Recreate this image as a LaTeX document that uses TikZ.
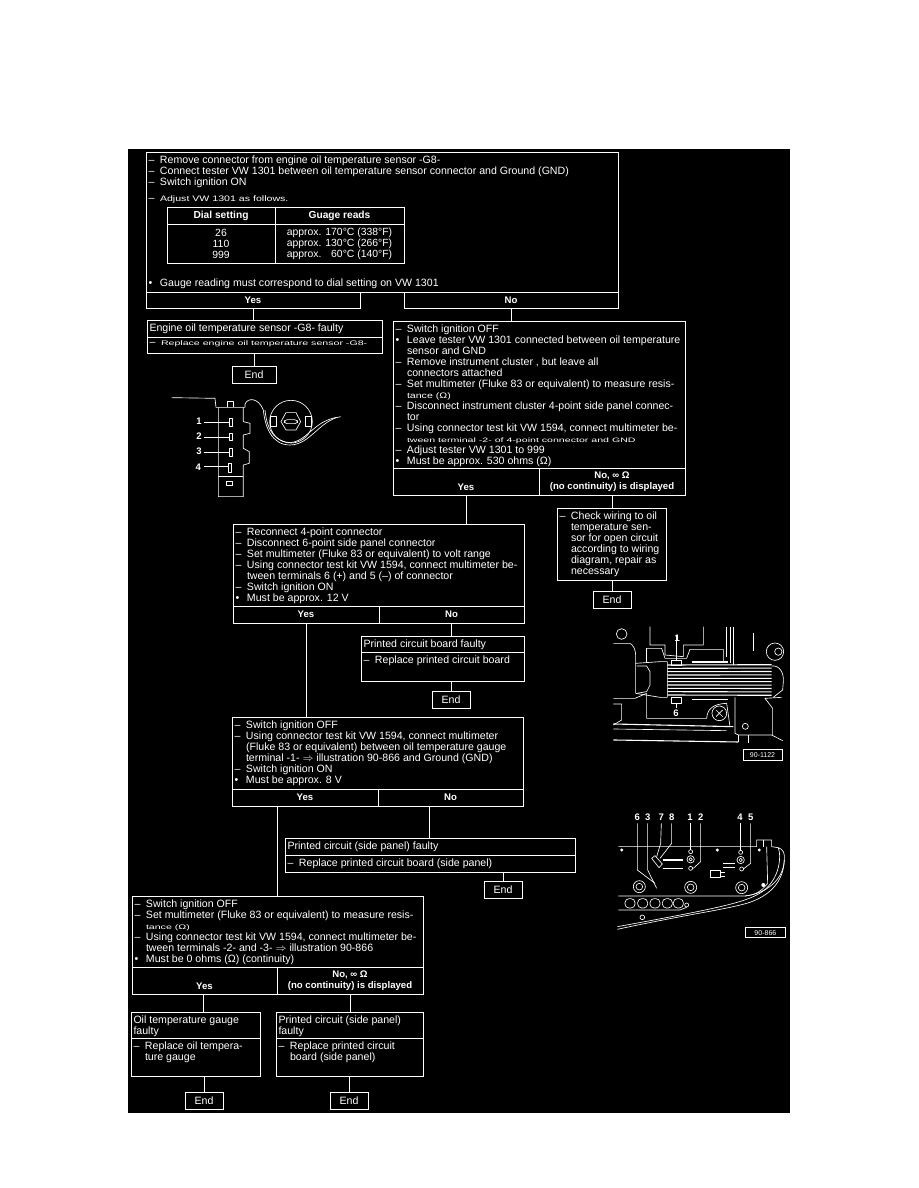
\documentclass[tikz,border=0pt]{standalone}
\usepackage{fontspec}
\setmainfont{Liberation Sans}
\usetikzlibrary{calc}
\newcommand\dl[1]{\makebox[11.5pt][l]{–}#1}
\newcommand\bl[1]{\makebox[11.5pt][l]{\textbullet}#1}
\newcommand\cl[1]{\makebox[11.5pt][l]{}#1}
\newcommand\sq[2][.62]{\scalebox{1}[#1]{#2}}
\newcommand\bt[3]{\parbox[c][#2pt][t]{#1pt}{\vspace*{3.8pt}\raggedright\leftskip=2.5pt\fontsize{10.6}{11}\selectfont #3}}
\tikzset{
 every node/.style={text=white},
 cell/.style={draw=white,line width=.8pt,inner sep=0pt,anchor=north west,outer sep=0pt},
 choice/.style={cell,align=center,font=\fontsize{9.6}{11}\selectfont\bfseries},
 endbox/.style={cell,align=center,font=\fontsize{10.6}{11}\selectfont,minimum width=38pt,minimum height=17pt},
 conn/.style={draw=white,line width=.8pt},
 art/.style={draw=white,line width=.65pt,line join=round},
 thick art/.style={draw=white,line width=1.1pt},
 lab/.style={inner sep=0pt,font=\fontsize{9.5}{10}\selectfont\bfseries},
 tag/.style={draw=white,line width=.8pt,inner sep=0pt,font=\fontsize{7}{8}\selectfont},
}
\begin{document}
\begin{tikzpicture}[x=1pt,y=-1pt]
\useasboundingbox (0,0) rectangle (918,1188);
\fill[black] (128,149) rectangle (790,1113);
% box 1
\node[cell] (b1) at (146,152) {\bt{472}{140}{%
\dl{Remove connector from engine oil temperature sensor -G8-}\\
\dl{Connect tester VW 1301 between oil temperature sensor connector and Ground (GND)}\\
\dl{Switch ignition ON}\\[5pt]
\dl{\sq[.75]{Adjust VW 1301 as follows.}}\\[74pt]
\bl{Gauge reading must correspond to dial setting on VW 1301}}};
\node[choice,minimum width=214pt,minimum height=16pt] (b1y) at (146,292) {Yes};
\node[choice,minimum width=214pt,minimum height=16pt] (b1n) at (404,292) {No};
\node[choice,font=\fontsize{10.2}{11}\selectfont\bfseries,minimum width=108pt,minimum height=17pt] (th1) at (167,207) {Dial setting};
\node[choice,font=\fontsize{10.2}{11}\selectfont\bfseries,minimum width=129pt,minimum height=17pt] (th2) at (275,207) {Guage reads};
\node[cell,align=center,font=\fontsize{10.4}{11}\selectfont,minimum width=108pt,minimum height=39pt] (td1) at (167,224) {26\\110\\999};
\node[cell,align=center,font=\fontsize{10.4}{11}\selectfont,minimum width=129pt,minimum height=39pt] (td2) at (275,224) {approx. 170°C (338°F)\\approx. 130°C (266°F)\\approx. \ \ 60°C (140°F)};
% box 2
\node[cell] (b2) at (147,320) {\bt{235}{17}{Engine oil temperature sensor -G8- faulty}};
\node[cell] (b2b) at (147,337) {\bt{235}{16}{\dl{\sq{Replace engine oil temperature sensor -G8-}}}};
\node[endbox,minimum width=44pt] (e2) at (232,366) {End};
% box 3
\node[cell] (b3) at (393,321) {\bt{292}{147}{%
\dl{Switch ignition OFF}\\
\bl{Leave tester VW 1301 connected between oil temperature}\\
\cl{sensor and GND}\\
\dl{Remove instrument cluster , but leave all}\\
\cl{connectors attached}\\
\dl{Set multimeter (Fluke 83 or equivalent) to measure resis-}\\
\cl{\sq[.75]{tance (Ω)}}\\
\dl{Disconnect instrument cluster 4-point side panel connec-}\\
\cl{tor}\\
\dl{Using connector test kit VW 1594, connect multimeter be-}\\
\cl{\sq[.6]{tween terminal -2- of 4-point connector and GND}}\\
\dl{Adjust tester VW 1301 to 999}\\
\bl{Must be approx. 530 ohms (Ω)}}};
\node[choice,minimum width=146pt,minimum height=27pt] (b3y) at (393,468) {\strut\\Yes};
\node[choice,minimum width=146pt,minimum height=27pt] (b3n) at (539,468) {No, ∞ Ω\\(no continuity) is displayed};
% box 5
\node[cell] (b5) at (557,508) {\bt{109}{72}{%
\dl{Check wiring to oil}\\ \cl{temperature sen-}\\ \cl{sor for open circuit}\\ \cl{according to wiring}\\ \cl{diagram, repair as}\\ \cl{necessary}}};
\node[endbox] (e5) at (593,591) {End};
% box 4
\node[cell] (b4) at (233,524) {\bt{291}{82}{%
\dl{Reconnect 4-point connector}\\
\dl{Disconnect 6-point side panel connector}\\
\dl{Set multimeter (Fluke 83 or equivalent) to volt range}\\
\dl{Using connector test kit VW 1594, connect multimeter be-}\\
\cl{tween terminals 6 (+) and 5 (–) of connector}\\
\dl{Switch ignition ON}\\
\bl{Must be approx. 12 V}}};
\node[choice,minimum width=146pt,minimum height=17pt] (b4y) at (233,606) {Yes};
\node[choice,minimum width=145pt,minimum height=17pt] (b4n) at (379,606) {No};
% box 6
\node[cell] (b6) at (361,636) {\bt{163}{16}{Printed circuit board faulty}};
\node[cell] (b6b) at (361,652) {\bt{163}{29}{\dl{Replace printed circuit board}}};
\node[endbox] (e6) at (432,691) {End};
% box 7
\node[cell] (b7) at (232,717) {\bt{291}{72}{%
\dl{Switch ignition OFF}\\
\dl{Using connector test kit VW 1594, connect multimeter}\\
\cl{(Fluke 83 or equivalent) between oil temperature gauge}\\
\cl{terminal -1- $\Rightarrow$ illustration 90-866 and Ground (GND)}\\
\dl{Switch ignition ON}\\
\bl{Must be approx. 8 V}}};
\node[choice,minimum width=146pt,minimum height=17pt] (b7y) at (232,789) {Yes};
\node[choice,minimum width=145pt,minimum height=17pt] (b7n) at (378,789) {No};
% box 8
\node[cell] (b8) at (285,838) {\bt{290}{17}{Printed circuit (side panel) faulty}};
\node[cell] (b8b) at (285,855) {\bt{290}{17}{\dl{Replace printed circuit board (side panel)}}};
\node[endbox] (e8) at (484,881) {End};
% box 9
\node[cell] (b9) at (132,896) {\bt{291}{71}{%
\dl{Switch ignition OFF}\\
\dl{Set multimeter (Fluke 83 or equivalent) to measure resis-}\\
\cl{\sq{tance (Ω)}}\\
\dl{Using connector test kit VW 1594, connect multimeter be-}\\
\cl{tween terminals -2- and -3- $\Rightarrow$ illustration 90-866}\\
\bl{Must be 0 ohms (Ω) (continuity)}}};
\node[choice,minimum width=145pt,minimum height=27pt] (b9y) at (132,967) {\strut\\Yes};
\node[choice,minimum width=146pt,minimum height=27pt] (b9n) at (277,967) {No, ∞ Ω\\(no continuity) is displayed};
% box 10
\node[cell] (b10) at (131,1012) {\bt{129}{26}{Oil temperature gauge\\faulty}};
\node[cell] (b10b) at (131,1038) {\bt{129}{38}{\dl{Replace oil tempera-}\\ \cl{ture gauge}}};
\node[endbox] (e10) at (185,1092) {End};
% box 11
\node[cell] (b11) at (276,1012) {\bt{147}{26}{Printed circuit (side panel)\\faulty}};
\node[cell] (b11b) at (276,1038) {\bt{147}{38}{\dl{Replace printed circuit}\\ \cl{board (side panel)}}};
\node[endbox] (e11) at (330,1092) {End};
% connectors
\coordinate (j7y) at (277,806);
\coordinate (j7n) at (429,806);
\coordinate (j9y) at (203,994);
\draw[conn] (b1y.south) -- (b1y.south |- b2.north);
\draw[conn] (b1n.south) -- (b1n.south |- b3.north);
\draw[conn] (b2b.south -| e2.north) -- (e2.north);
\draw[conn] (b3y.south) -- (b3y.south |- b4.north);
\draw[conn] (b3n.south) -- (b3n.south |- b5.north);
\draw[conn] (b5.south -| e5.north) -- (e5.north);
\draw[conn] (b4y.south) -- (b4y.south |- b7.north);
\draw[conn] (b4n.south) -- (b4n.south |- b6.north);
\draw[conn] (b6b.south -| e6.north) -- (e6.north);
\draw[conn] (j7y) -- (j7y |- b9.north);
\draw[conn] (j7n) -- (j7n |- b8.north);
\draw[conn] (b8b.south -| e8.north) -- (e8.north);
\draw[conn] (j9y) -- (j9y |- b10.north);
\draw[conn] (b9n.south) -- (b9n.south |- b11.north);
\draw[conn] (b10b.south -| e10.north) -- (e10.north);
\draw[conn] (b11b.south -| e11.north) -- (e11.north);
% illustration: sensor connector
\begin{scope}[shift={(130,310)},x=.3333pt,y=-.3333pt]
\draw[art] (125,263) -- (255,265) -- (258,292) -- (345,292) -- (345,283) .. controls (352,262) and (385,262) .. (400,300) .. controls (405,350) and (425,405) .. (480,405) .. controls (540,405) and (570,330) .. (632,320);
\draw[art] (405,300) .. controls (412,370) and (440,395) .. (480,398) .. controls (530,395) and (550,335) .. (620,322);
\draw[art] (265,292) -- (265,560) -- (340,560) -- (340,465) -- (358,460) -- (358,425) -- (340,415) -- (340,375) -- (360,370) -- (360,340) -- (340,335) -- (340,292);
\draw[art] (292,290) -- (292,275) -- (310,275) -- (310,290);
\draw[art] (265,500) -- (340,500);
\draw[art] (290,513) rectangle (307,525);
\draw[art] (298,325) rectangle (307,350);
\draw[art] (298,370) rectangle (307,392);
\draw[art] (298,415) rectangle (307,440);
\draw[art] (295,460) rectangle (305,487);
\draw[art] (222,337) -- (298,337);
\draw[art] (222,381) -- (298,381);
\draw[art] (222,426) -- (298,426);
\draw[art] (222,470) -- (295,470);
\draw[art] (483,335) circle (64);
\draw[art] (512,335) -- (498,360) -- (468,360) -- (453,335) -- (468,308) -- (498,308) -- cycle;
\draw[art,rounded corners=3pt] (463,329) rectangle (503,341);
\draw[art] (420,320) rectangle (440,350);
\draw[art] (525,320) rectangle (545,350);
\node[lab] (s1) at (207,335) {1};
\node[lab] (s2) at (207,380) {2};
\node[lab] (s3) at (207,425) {3};
\node[lab] (s4) at (205,472) {4};
\end{scope}
% illustration 90-1122
\begin{scope}[shift={(590,610)},x=.3333pt,y=-.3333pt]
\draw[art] (95,72) circle (16);
\draw[art] (70,100) -- (120,100) .. controls (130,105) and (137,120) .. (137,135) -- (137,250);
\draw[art] (180,50) -- (180,105) -- (225,105) -- (225,135) -- (280,140) -- (280,105) -- (340,105) -- (340,50);
\draw[art] (170,115) -- (215,115) -- (225,145) -- (290,145) -- (300,118) -- (400,118) -- (400,155);
\draw[art] (170,115) -- (170,158);
\draw[art] (137,160) -- (210,155) -- (232,155) -- (232,262) -- (210,262) -- (137,250);
\draw[art] (140,168) -- (170,168) -- (180,185) -- (180,225) -- (170,245) -- (140,250);
\draw[art] (170,250) -- (170,325) -- (350,325) .. controls (352,300) and (365,282) .. (410,280) -- (420,350);
\foreach \yy in {165,175,185,195,205,215,225,235,245,255}{\draw[thick art] (232,\yy) -- (545,{\yy+(\yy-210)*.02});}
\draw[art] (545,168) .. controls (570,165) and (582,190) .. (580,215) -- (578,240) -- (550,262);
\draw[art] (410,50) -- (410,140);
\draw[art] (420,50) -- (420,160);
\draw[art] (430,50) -- (430,165);
\draw[thick art] (490,70) -- (490,122);
\draw[art] (245,150) rectangle (275,165);
\draw[art] (260,75) -- (260,150);
\draw[art] (245,262) rectangle (275,280);
\draw[art] (260,280) -- (260,295);
\draw[thick art] (305,156) -- (415,156);
\draw[thick art] (305,268) -- (415,268);
\draw[art] (70,265) -- (135,265) -- (170,250);
\draw[art] (70,282) -- (95,282) -- (95,330) -- (70,345);
\draw[thick art] (70,342) -- (430,350);
\draw[art] (70,357) -- (410,362);
\draw[thick art] (70,390) -- (445,396);
\draw[art] (435,262) -- (435,370) -- (445,375) -- (545,375) -- (578,392);
\draw[art] (548,375) -- (548,295) -- (525,265) -- (575,262);
\draw[art] (445,375) -- (445,396);
\draw[art] (476,375) -- (476,398);
\draw[art] (388,310) circle (22);
\draw[art] (378,300) -- (398,320) (398,300) -- (378,320);
\draw[art] (466,349) circle (9);
\draw[art] (555,125) circle (26);
\draw[art] (565,125) circle (11);
\node[lab] (m1) at (262,85) {1};
\node[lab] (m6) at (258,310) {6};
\node[tag,minimum width=39pt,minimum height=11pt,anchor=north west] (t1122) at (458,418) {90-1122};
\end{scope}
% illustration 90-866
\begin{scope}[shift={(600,800)},x=.3333pt,y=-.3333pt]
\draw[art] (55,140) -- (470,140) -- (470,120) -- (515,120) -- (515,140) -- (535,143) .. controls (550,148) and (555,160) .. (553,180) .. controls (550,240) and (500,280) .. (435,288) -- (55,288);
\draw[art] (490,120) -- (490,140);
\draw[art] (500,140) -- (503,250) .. controls (480,280) and (460,285) .. (435,288);
\draw[art] (535,143) .. controls (545,170) and (540,250) .. (470,285) .. controls (420,312) and (300,335) .. (52,380);
\draw[art] (553,180) .. controls (550,260) and (490,295) .. (440,310) .. controls (370,330) and (250,345) .. (52,388);
\draw[art] (55,330) -- (240,330) -- (260,322);
\foreach \xx/\ii in {90/a,128/b,165/c,202/d,235/e}{\draw[art,rounded corners=4pt] ({\xx-15},296) rectangle ({\xx+15},324);}
\draw[art] (260,315) circle (6);
\draw[art] (127,352) circle (7);
\draw[art] (272,155) circle (6);
\draw[art] (272,178) circle (11); \draw[art] (272,178) circle (5);
\draw[art] (272,205) circle (6);
\draw[art] (422,157) circle (6);
\draw[art] (422,180) circle (11); \draw[art] (422,180) circle (5);
\draw[art] (425,207) circle (6);
\foreach \xx/\yy in {118/260,272/262,425/263}{\draw[art] (\xx,\yy) circle (18); \draw[art] (\xx,\yy) circle (10);}
\draw[art] (112,70) -- (112,210) -- (165,250);
\draw[art] (143,70) -- (143,210) -- (170,265);
\draw[art] (184,70) -- (182,130) -- (170,170);
\draw[art] (215,70) -- (215,130) -- (180,175);
\draw[art] (272,70) -- (272,150);
\draw[art] (302,70) -- (302,185) -- (280,205);
\draw[art] (422,70) -- (422,150);
\draw[art] (452,70) -- (452,190) -- (430,207);
\draw[thick art] (190,180) -- (250,180);
\draw[thick art] (190,205) -- (250,205);
\draw[thick art] (370,190) -- (405,190);
\draw[thick art] (370,203) -- (405,203);
\draw[art] (155,175) -- (165,167) -- (187,192) -- (177,203) -- cycle;
\draw[art] (330,212) rectangle (360,232);
\draw[art] (360,218) -- (375,218) (360,228) -- (375,228);
\fill[white] (65,150) circle (5) (352,150) circle (5) (478,150) circle (5) (490,255) circle (6);
\node[lab] (p6) at (112,52) {6};
\node[lab] (p3) at (143,52) {3};
\node[lab] (p7) at (184,52) {7};
\node[lab] (p8) at (215,52) {8};
\node[lab] (p1) at (270,52) {1};
\node[lab] (p2) at (302,52) {2};
\node[lab] (p4) at (420,52) {4};
\node[lab] (p5) at (452,52) {5};
\node[tag,minimum width=40pt,minimum height=10pt,anchor=north west] (t866) at (435,382) {90-866};
\end{scope}
\end{tikzpicture}
\end{document}
